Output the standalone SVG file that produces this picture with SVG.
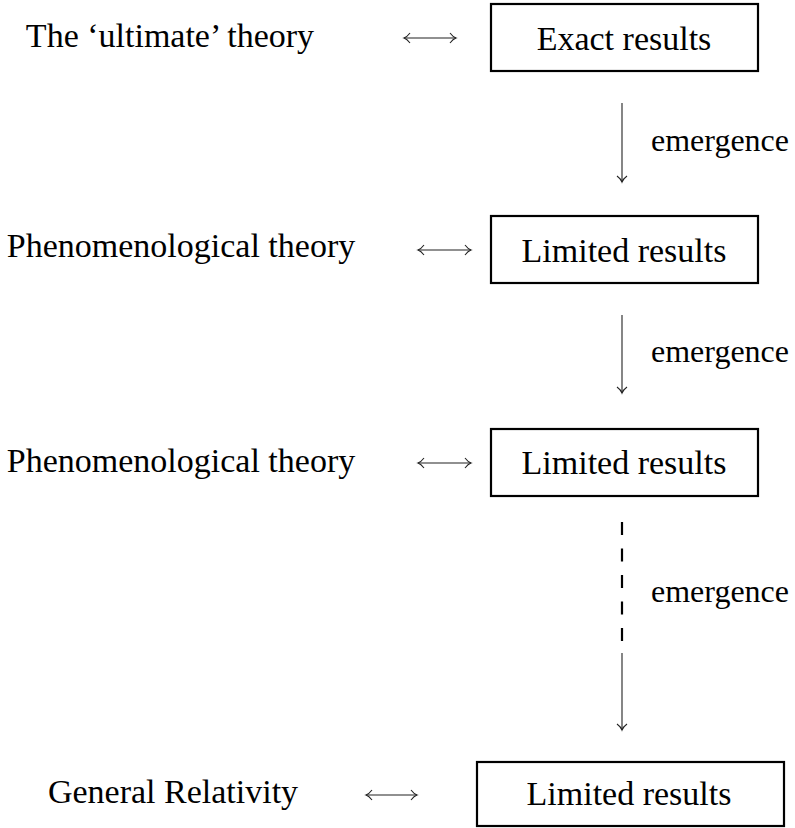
<svg xmlns="http://www.w3.org/2000/svg" width="795" height="828" viewBox="0 0 795 828">
<style>
  text { font-family: "Liberation Serif", "DejaVu Serif", serif; font-size: 34px; fill: #000; }
  .lbl { font-size: 32px; }
  .box { fill: #fff; stroke: #000; stroke-width: 2.2; }
  .conn { fill: none; stroke: #222; stroke-width: 1.1; }
  .dash { fill: none; stroke: #000; stroke-width: 2.2; stroke-dasharray: 13 13.5; }
</style>
<defs>
  <marker id="head" viewBox="-10 -6 12 12" markerWidth="12" markerHeight="12" refX="0" refY="0" orient="auto" markerUnits="userSpaceOnUse">
    <path d="M -6 -5 Q -3 -1 0 0 Q -3 1 -6 5" fill="none" stroke="#222" stroke-width="1.1"/>
  </marker>
  <marker id="tail" viewBox="-2 -6 12 12" markerWidth="12" markerHeight="12" refX="0" refY="0" orient="auto" markerUnits="userSpaceOnUse">
    <path d="M 6 -5 Q 3 -1 0 0 Q 3 1 6 5" fill="none" stroke="#222" stroke-width="1.1"/>
  </marker>
</defs>

<g id="theory-ultimate"><text x="170" y="47" text-anchor="middle">The ‘ultimate’ theory</text></g>
<g id="exact-results">
  <rect class="box" x="491" y="4" width="267" height="67"/>
  <text x="624" y="50" text-anchor="middle">Exact results</text>
</g>

<g id="phen-theory-1"><text x="181" y="257" text-anchor="middle">Phenomenological theory</text></g>
<g id="limited-results-1">
  <rect class="box" x="491" y="216" width="267" height="67"/>
  <text x="624" y="262" text-anchor="middle">Limited results</text>
</g>

<g id="phen-theory-2"><text x="181" y="472" text-anchor="middle">Phenomenological theory</text></g>
<g id="limited-results-2">
  <rect class="box" x="491" y="429" width="267" height="67"/>
  <text x="624" y="474" text-anchor="middle">Limited results</text>
</g>

<g id="general-relativity"><text x="173" y="803" text-anchor="middle">General Relativity</text></g>
<g id="limited-results-3">
  <rect class="box" x="477" y="762" width="307" height="64"/>
  <text x="629" y="805" text-anchor="middle">Limited results</text>
</g>

<g id="connectors">
  <line class="conn" x1="404" y1="38" x2="456" y2="38" marker-start="url(#tail)" marker-end="url(#head)"/>
  <line class="conn" x1="418" y1="250" x2="471" y2="250" marker-start="url(#tail)" marker-end="url(#head)"/>
  <line class="conn" x1="418" y1="463" x2="471" y2="463" marker-start="url(#tail)" marker-end="url(#head)"/>
  <line class="conn" x1="366" y1="795" x2="417" y2="795" marker-start="url(#tail)" marker-end="url(#head)"/>

  <line class="conn" x1="622" y1="103" x2="622" y2="182" marker-end="url(#head)"/>
  <text class="lbl" x="651" y="151">emergence</text>

  <line class="conn" x1="622" y1="315" x2="622" y2="393" marker-end="url(#head)"/>
  <text class="lbl" x="651" y="362">emergence</text>

  <line class="dash" x1="622" y1="522" x2="622" y2="641"/>
  <line class="conn" x1="622" y1="653" x2="622" y2="730" marker-end="url(#head)"/>
  <text class="lbl" x="651" y="602">emergence</text>
</g>
</svg>
